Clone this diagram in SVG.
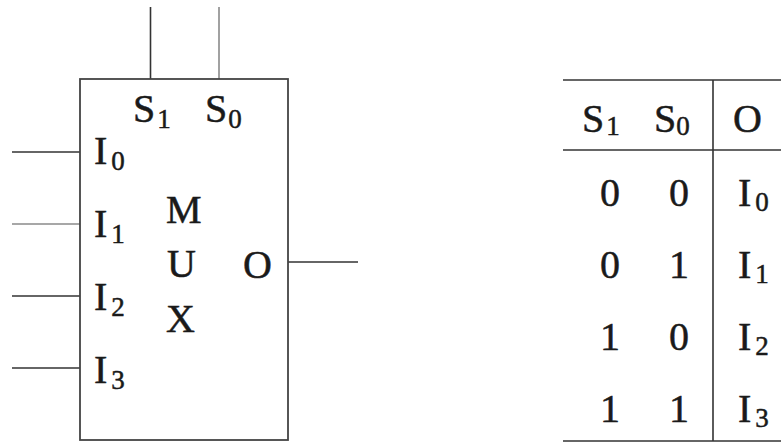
<svg xmlns="http://www.w3.org/2000/svg" width="781" height="443" viewBox="0 0 781 443">
<style>
.t{font-family:"Liberation Serif","Times New Roman",serif;font-size:40px;fill:#1a1a1a;stroke:#1a1a1a;stroke-width:0.5}
.s{font-size:27px}
.ln{stroke:#333;stroke-width:1.6;fill:none}
.lg{stroke:#8a8a8a;stroke-width:1.6;fill:none}
</style>
<rect width="781" height="443" fill="#fff"/>
<g id="connectors">
<line class="ln" x1="150.5" y1="7" x2="150.5" y2="79"/>
<line class="lg" x1="219" y1="7" x2="219" y2="79"/>
<line class="ln" x1="12" y1="152" x2="80" y2="152"/>
<line class="lg" x1="12" y1="224" x2="80" y2="224"/>
<line class="ln" x1="12" y1="296" x2="80" y2="296"/>
<line class="ln" x1="12" y1="368" x2="80" y2="368"/>
<line class="ln" x1="288" y1="262" x2="358" y2="262"/>
</g>
<g id="mux">
<rect x="80" y="79" width="208" height="361" fill="none" stroke="#444" stroke-width="1.8"/>
<text class="t" x="133" y="122">S<tspan class="s" dx="2" dy="6">1</tspan></text>
<text class="t" x="205" y="122">S<tspan class="s" dx="1" dy="6">0</tspan></text>
<text class="t" x="94" y="164">I<tspan class="s" dx="4" dy="6">0</tspan></text>
<text class="t" x="94" y="237">I<tspan class="s" dx="4" dy="6">1</tspan></text>
<text class="t" x="94" y="310">I<tspan class="s" dx="4" dy="6">2</tspan></text>
<text class="t" x="94" y="383">I<tspan class="s" dx="4" dy="6">3</tspan></text>
<text class="t" x="166" y="223">M</text>
<text class="t" x="167" y="277">U</text>
<text class="t" x="166" y="332">X</text>
<text class="t" x="243" y="278">O</text>
</g>
<g id="table">
<line class="ln" x1="563" y1="80" x2="781" y2="80"/>
<line class="ln" x1="563" y1="150" x2="781" y2="150"/>
<line class="ln" x1="563" y1="441" x2="781" y2="441"/>
<line class="ln" x1="713" y1="80" x2="713" y2="441"/>
<text class="t" x="582" y="132">S<tspan class="s" dx="2" dy="3">1</tspan></text>
<text class="t" x="654" y="132">S<tspan class="s" dx="0" dy="3">0</tspan></text>
<text class="t" x="733" y="132">O</text>
<g text-anchor="middle">
<text class="t" x="610" y="206">0</text><text class="t" x="679" y="206">0</text>
<text class="t" x="610" y="278">0</text><text class="t" x="679" y="278">1</text>
<text class="t" x="610" y="350">1</text><text class="t" x="679" y="350">0</text>
<text class="t" x="610" y="422">1</text><text class="t" x="679" y="422">1</text>
</g>
<text class="t" x="738" y="206">I<tspan class="s" dx="4" dy="5">0</tspan></text>
<text class="t" x="738" y="278">I<tspan class="s" dx="4" dy="5">1</tspan></text>
<text class="t" x="738" y="350">I<tspan class="s" dx="4" dy="5">2</tspan></text>
<text class="t" x="738" y="422">I<tspan class="s" dx="4" dy="5">3</tspan></text>
</g>
</svg>
